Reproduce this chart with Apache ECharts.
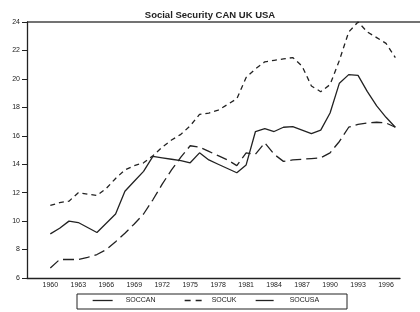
<!DOCTYPE html>
<html>
<head>
<meta charset="utf-8">
<script src="https://cdn.jsdelivr.net/npm/echarts@6/dist/echarts.min.js"></script>
<style>html,body{margin:0;padding:0;background:#fff}#c{width:420px;height:312px}</style>
</head>
<body>
<div id="c"></div>
<script>
var years = [];
for (var y = 1958; y <= 1997; y++) years.push(String(y));
// values for 1958..1997 (1958, 1959 empty)
var socCAN = [null, null, 9.1, 9.5, 10.0, 9.9, 9.55, 9.2, 9.85, 10.5, 12.1, 12.8, 13.5, 14.55, 14.45, 14.35, 14.25, 14.1, 14.8, 14.3, 14.0, 13.7, 13.4, 13.95, 16.3, 16.5, 16.3, 16.6, 16.65, 16.4, 16.15, 16.4, 17.6, 19.7, 20.3, 20.25, 19.1, 18.1, 17.3, 16.6];
var socUK = [null, null, 11.1, 11.3, 11.4, 12.0, 11.9, 11.8, 12.3, 13.0, 13.6, 13.9, 14.1, 14.6, 15.2, 15.7, 16.1, 16.7, 17.5, 17.6, 17.8, 18.2, 18.6, 20.1, 20.7, 21.2, 21.3, 21.4, 21.5, 20.9, 19.5, 19.1, 19.6, 21.3, 23.3, 24.0, 23.3, 22.9, 22.5, 21.5];
var socUSA = [null, null, 6.7, 7.3, 7.3, 7.3, 7.45, 7.65, 8.0, 8.55, 9.15, 9.8, 10.5, 11.5, 12.6, 13.6, 14.5, 15.3, 15.2, 14.9, 14.6, 14.3, 13.9, 14.8, 14.7, 15.5, 14.7, 14.2, 14.3, 14.35, 14.4, 14.45, 14.8, 15.6, 16.6, 16.8, 16.9, 16.95, 16.9, 16.6];
var yTicks = {min: 6, max: 24, step: 2};
var labelStart = 1960, labelStep = 3, labelEnd = 1996;

var FONT = 'Liberation Sans';
var INK = '#222';
var chart = echarts.init(document.getElementById('c'), null, {renderer: 'canvas'});
function legendFor(name, left, w, gap, ls) {
  var d = {name: name};
  return {
    data: [d], left: left, top: 297, itemWidth: w, itemHeight: 8, itemGap: 0, padding: 0,
    itemStyle: {opacity: 0},
    lineStyle: ls,
    textStyle: {fontFamily: FONT, fontSize: 7, color: INK, padding: [0, 0, 0, gap]}
  };
}
chart.setOption({
  animation: false,
  backgroundColor: '#fff',
  title: {
    text: 'Social Security CAN UK USA', left: 'center', top: 5,
    textStyle: {fontFamily: FONT, fontSize: 9.5, fontWeight: 'bold', color: INK}
  },
  grid: {left: 27, right: 20, top: 22, bottom: 34},
  legend: [
    legendFor('SOCCAN', 92, 20, 8, {type: 'solid', width: 1.3, color: INK}),
    legendFor('SOCUK', 184, 17, 5, {type: [6, 5], width: 1.3, color: INK}),
    legendFor('SOCUSA', 255, 18, 11, {type: 'solid', width: 1.3, color: INK})
  ],
  graphic: [
    {type: 'rect', shape: {x: 77, y: 294, width: 270, height: 15}, style: {fill: 'none', stroke: INK, lineWidth: 1}},
    {type: 'line', shape: {x1: 27, y1: 22, x2: 420, y2: 22}, style: {stroke: '#444', lineWidth: 1.3}}
  ],
  xAxis: {
    type: 'category', data: years, boundaryGap: true,
    axisLine: {lineStyle: {color: INK, width: 1.3}},
    axisTick: {alignWithLabel: true, interval: 0, length: 4, lineStyle: {color: INK}},
    axisLabel: {
      fontFamily: FONT, fontSize: 7, color: INK, margin: 4,
      interval: function (i, v) { var n = +v; return n >= labelStart && n <= labelEnd && (n - labelStart) % labelStep === 0; }
    },
    splitLine: {show: false}
  },
  yAxis: {
    type: 'value', min: yTicks.min, max: yTicks.max, interval: yTicks.step,
    axisLine: {show: true, lineStyle: {color: INK, width: 1.3}},
    axisTick: {show: true, length: 5, lineStyle: {color: INK}},
    axisLabel: {fontFamily: FONT, fontSize: 7, color: INK, margin: 7},
    splitLine: {show: false}
  },
  series: [
    {name: 'SOCCAN', type: 'line', data: socCAN, symbol: 'none', lineStyle: {color: INK, width: 1.3, type: 'solid'}, itemStyle: {color: INK}},
    {name: 'SOCUK', type: 'line', data: socUK, symbol: 'none', lineStyle: {color: INK, width: 1.3, type: [5, 4]}, itemStyle: {color: INK}},
    {name: 'SOCUSA', type: 'line', data: socUSA, symbol: 'none', lineStyle: {color: INK, width: 1.3, type: [11, 5]}, itemStyle: {color: INK}}
  ]
});
</script>
</body>
</html>
